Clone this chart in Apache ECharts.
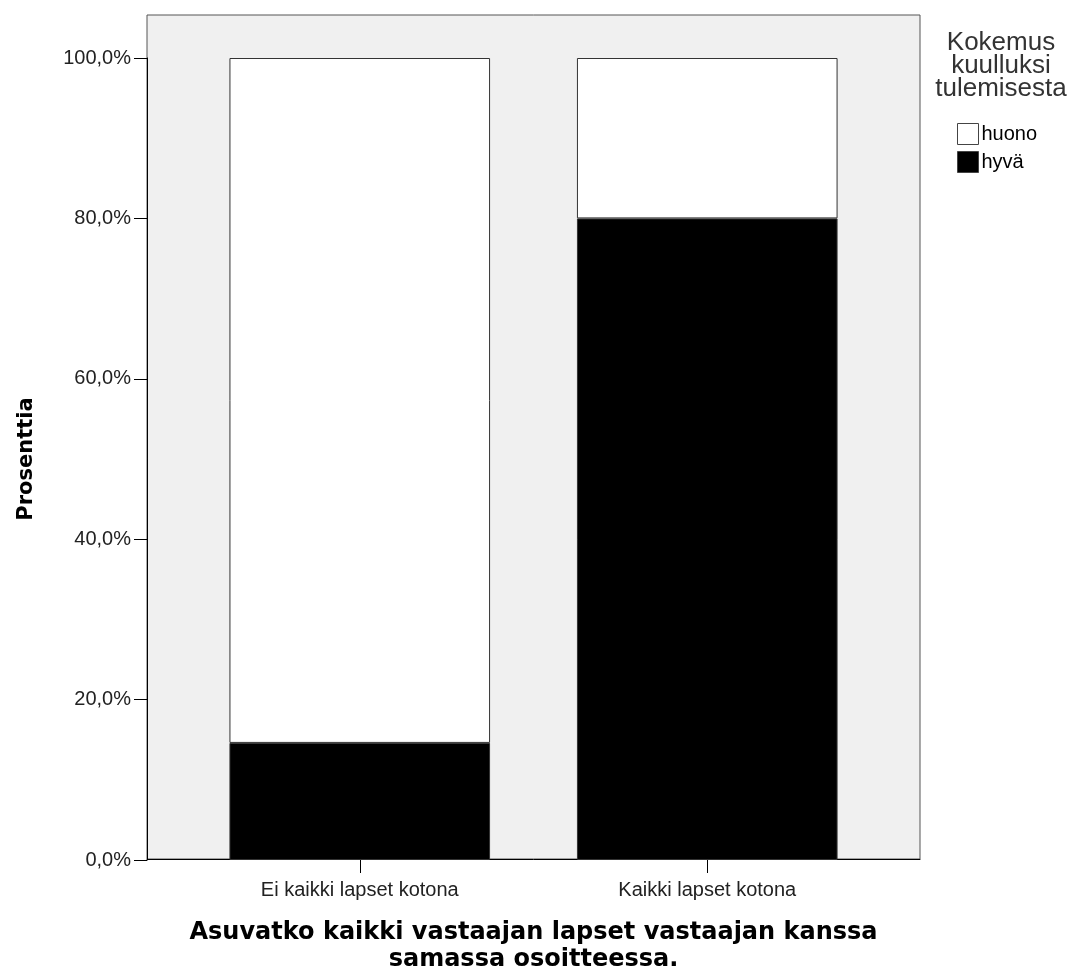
<!DOCTYPE html>
<html>
<head>
<meta charset="utf-8">
<script src="https://cdn.jsdelivr.net/npm/echarts@6/dist/echarts.min.js"></script>
<style>html,body{margin:0;padding:0;background:#fff}#c{width:1071px;height:978px}</style>
</head>
<body>
<div id="c"></div>
<script>
const categories = ['Ei kaikki lapset kotona', 'Kaikki lapset kotona'];
const hyva = [14.6, 80.0];
const huono = [85.4, 20.0];
const yTicks = [0, 20, 40, 60, 80, 100];
const legendTitle = 'Kokemus\nkuulluksi\ntulemisesta';
const xTitle = 'Asuvatko kaikki vastaajan lapset vastaajan kanssa\nsamassa osoitteessa.';
const yTitle = 'Prosenttia';

const chart = echarts.init(document.getElementById('c'));
chart.setOption({
  animation: false,
  backgroundColor: '#ffffff',
  grid: [
    { left: 147, right: 151, top: 15, bottom: 118, show: true, backgroundColor: '#f0f0f0', borderColor: '#555', borderWidth: 1 },
    { left: 186, right: 190, top: 58, bottom: 118 }
  ],
  xAxis: [
    { gridIndex: 0, type: 'category', data: [''],
      axisLine: { show: true, lineStyle: { color: '#000', width: 1 } },
      axisTick: { show: false }, axisLabel: { show: false },
      name: xTitle, nameLocation: 'middle', nameGap: 60,
      nameTextStyle: { fontFamily: 'DejaVu Sans', fontWeight: 'bold', fontSize: 24, lineHeight: 27, color: '#000' } },
    { gridIndex: 1, type: 'category', data: categories,
      axisLine: { show: false },
      axisTick: { show: true, alignWithLabel: true, length: 13, lineStyle: { color: '#000' } },
      axisLabel: { fontFamily: 'Liberation Sans', fontSize: 20, color: '#222', margin: 20 } }
  ],
  yAxis: [
    { gridIndex: 0, type: 'value', show: false, min: 0, max: 100 },
    { gridIndex: 1, type: 'value', min: 0, max: 100, interval: 20, offset: 39,
      axisLine: { show: true, lineStyle: { color: '#000', width: 1 } },
      axisTick: { show: true, length: 13, lineStyle: { color: '#000' } },
      splitLine: { show: false },
      axisLabel: { fontFamily: 'Liberation Sans', fontSize: 20, color: '#222', margin: 16,
        formatter: v => yTicks.indexOf(v) >= 0 ? v.toFixed(1).replace('.', ',') + '%' : '' },
      name: yTitle, nameLocation: 'middle', nameGap: 110, nameRotate: 90,
      nameTextStyle: { fontFamily: 'DejaVu Sans', fontWeight: 'bold', fontSize: 21, color: '#000' } }
  ],
  legend: {
    orient: 'vertical', left: 952, top: 118, itemWidth: 21, itemHeight: 21, itemGap: 6,
    icon: 'rect', data: ['huono', 'hyvä'],
    itemStyle: { borderColor: '#444', borderWidth: 1 },
    textStyle: { fontFamily: 'Liberation Sans', fontSize: 20, color: '#000', padding: [0, 0, 0, -2] }
  },
  graphic: [
    { type: 'text', style: { text: legendTitle, x: 1001, y: 31, textAlign: 'center',
      font: '26px "Liberation Sans"', fill: '#333', lineHeight: 23 } }
  ],
  series: [
    { name: 'hyvä', type: 'bar', xAxisIndex: 1, yAxisIndex: 1, stack: 'p', data: hyva, barWidth: '75%',
      itemStyle: { color: '#000', borderColor: '#333', borderWidth: 1 } },
    { name: 'huono', type: 'bar', xAxisIndex: 1, yAxisIndex: 1, stack: 'p', data: huono, barWidth: '75%',
      itemStyle: { color: '#fff', borderColor: '#333', borderWidth: 1 } }
  ]
});
</script>
</body>
</html>
